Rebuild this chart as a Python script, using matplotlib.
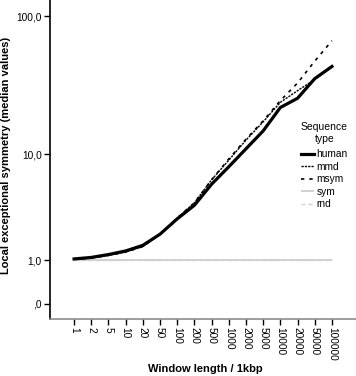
import numpy as np
import matplotlib
matplotlib.use('Agg')
import matplotlib.pyplot as plt

plt.rcParams['font.family'] = ['Liberation Sans', 'DejaVu Sans']

# Data
window_lengths = ['1', '2', '5', '10', '20', '50', '100', '200', '500', '1000',
                  '2000', '5000', '10000', '20000', '50000', '100000']
human = [1.05, 1.10, 1.20, 1.33, 1.55, 2.05, 2.90, 3.85, 5.8, 8.0,
         11.0, 15.0, 22.3, 26.0, 36.0, 44.0]
mmd = [1.04, 1.08, 1.17, 1.29, 1.50, 2.05, 2.95, 4.05, 6.3, 9.0,
       12.8, 17.5, 24.3, 29.5, 35.5, 43.5]
msym = [1.04, 1.08, 1.17, 1.29, 1.50, 2.05, 2.95, 4.05, 6.3, 9.2,
        13.0, 17.8, 25.0, 33.5, 48.0, 67.0]
sym = [1.0, 1.0, 1.0, 1.0, 1.0, 1.0, 1.0, 1.0, 1.0, 1.0,
       1.0, 1.0, 1.0, 1.0, 1.0, 1.0]
rnd = [1.0, 1.0, 1.0, 1.0, 1.0, 1.0, 1.0, 1.0, 1.0, 1.0,
       1.0, 1.0, 1.0, 1.0, 1.0, 1.0]

y_ticks = [0, 1, 10, 100]
y_tick_labels = [',0', '1,0', '10,0', '100,0']

x = np.arange(len(window_lengths))

fig = plt.figure(figsize=(3.56, 3.76), dpi=100)
ax = fig.add_axes([50 / 356, 57 / 376, 306 / 356, 319 / 376])

# log(x+1) style axis as in the original
def fwd(v):
    return np.log10(np.clip(np.asarray(v, dtype=float) + 1, 1e-6, None))

def inv(v):
    return 10 ** np.asarray(v, dtype=float) - 1

ax.set_yscale('function', functions=(fwd, inv))

ax.plot(x, sym, color='#c8c8c8', lw=1.2, solid_capstyle='butt', label='sym')
ax.plot(x, rnd, color='#d0d0d0', lw=1.0, dashes=(3, 2), label='rnd')
ax.plot(x, msym, color='black', lw=1.2, dashes=(2, 3), label='msym')
ax.plot(x, mmd, color='black', lw=1.0, dashes=(1.6, 0.8), label='mmd')
ax.plot(x, human, color='black', lw=2.3, label='human')

ax.set_xlim(-1.4, 16.4)
ax.set_ylim(-0.218, 129.7)

ax.set_yticks(y_ticks)
ax.set_yticklabels(y_tick_labels)
ax.yaxis.set_minor_locator(matplotlib.ticker.NullLocator())
ax.set_xticks(x)
ax.set_xticklabels(window_lengths, rotation=-90)

ax.tick_params(axis='both', labelsize=7.3, length=4, width=1, colors='black', pad=2)

for side in ['top', 'right']:
    ax.spines[side].set_visible(False)
ax.spines['left'].set_linewidth(1.2)
ax.spines['bottom'].set_color('#8c8c8c')
ax.spines['bottom'].set_linewidth(1.2)

fig.text(205 / 356, 1 - 369 / 376, 'Window length / 1kbp', ha='center', va='center',
         fontsize=8, fontweight='bold')
fig.text(6 / 356, 1 - 155 / 376, 'Local exceptional symmetry (median values)',
         ha='center', va='center', rotation=90, fontsize=8, fontweight='bold')

handles, labels = ax.get_legend_handles_labels()
order = ['human', 'mmd', 'msym', 'sym', 'rnd']
hl = dict(zip(labels, handles))
leg = fig.legend([hl[k] for k in order], order, title='Sequence\ntype',
                 loc='upper left', bbox_to_anchor=(301 / 356, 1 - 122 / 376),
                 frameon=False, fontsize=7.3, title_fontsize=7.5,
                 handlelength=1.3, handletextpad=0.2, labelspacing=0.25,
                 borderpad=0, borderaxespad=0, alignment='center')
leg.get_title().set_multialignment('center')
leg._legend_box.sep = 4

fig.savefig('out.png', dpi=100)
